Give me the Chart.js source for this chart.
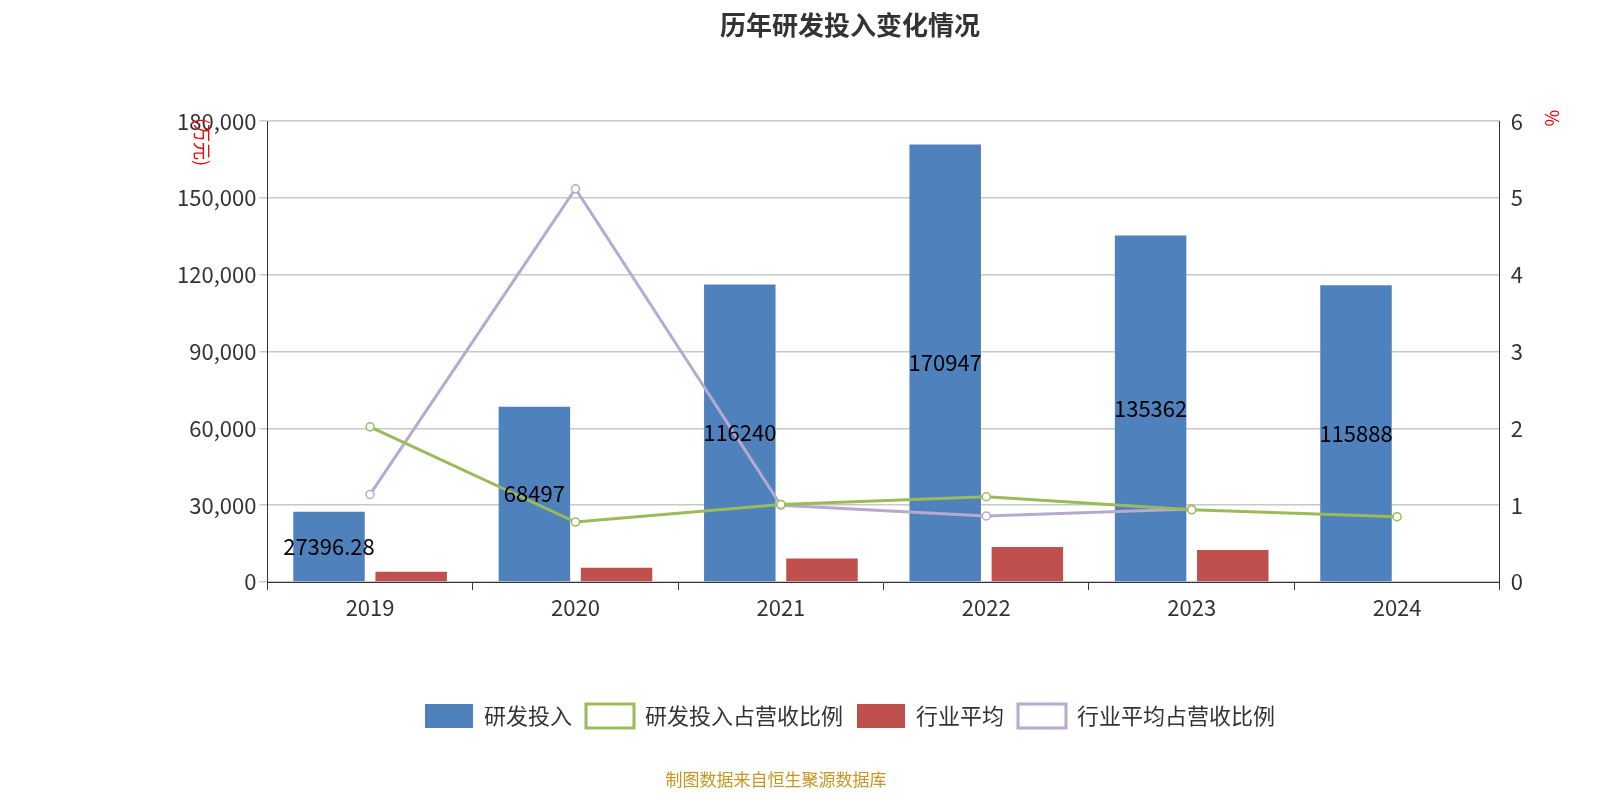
<!DOCTYPE html>
<html><head><meta charset="utf-8">
<script src="https://cdn.jsdelivr.net/npm/chart.js@4"></script>
<style>body{margin:0;background:#fff}#wrap{width:1600px;height:800px;position:relative}</style>
</head><body><div id="wrap"><canvas id="c" width="1600" height="800"></canvas></div>
<script>
const years = ['2019', '2020', '2021', '2022', '2023', '2024'];
const rdSpend = [27396.28, 68497, 116240, 170947, 135362, 115888];
const rdRatio = [2.02, 0.78, 1.01, 1.11, 0.94, 0.85];
const industryAvg = [4000, 5600, 9200, 13700, 12500, null];
const industryRatio = [1.14, 5.12, 1.0, 0.86, 0.95, null];

const FONT = '"Noto Sans CJK SC", "Noto Sans", sans-serif';

// labels in the middle of blue bars, axis titles, footer
const extras = {
    id: 'extras',
    afterDatasetsDraw(chart) {
        let ctx = chart.ctx;
        ctx.save();
        ctx.font = '22px ' + FONT;
        ctx.fillStyle = '#000';
        ctx.textAlign = 'center';
        ctx.textBaseline = 'middle';
        chart.getDatasetMeta(0).data.forEach((bar, i) => {
            ctx.fillText(String(rdSpend[i]), bar.x, (bar.y + bar.base) / 2);
        });
        ctx.fillStyle = 'red';
        ctx.font = '18px ' + FONT;
        ctx.translate(202, 142);
        ctx.rotate(Math.PI / 2);
        ctx.fillText('(万元)', 0, 0);
        ctx.restore();
        ctx.save();
        ctx.fillStyle = 'red';
        ctx.font = '18px ' + FONT;
        ctx.textAlign = 'center';
        ctx.textBaseline = 'middle';
        ctx.translate(1552, 118);
        ctx.rotate(Math.PI / 2);
        ctx.fillText('%', 0, 0);
        ctx.restore();
        ctx.save();
        ctx.fillStyle = '#c8961e';
        ctx.font = '17px ' + FONT;
        ctx.textAlign = 'center';
        ctx.fillText('制图数据来自恒生聚源数据库', 776, 780);
        ctx.restore();
    }
};

new Chart(document.getElementById('c'), {
    data: {
        labels: years,
        datasets: [
            { type: 'bar', label: '研发投入', data: rdSpend, backgroundColor: '#4f81bd', yAxisID: 'y', order: 2 },
            { type: 'line', label: '研发投入占营收比例', data: rdRatio, borderColor: '#9bbb59', backgroundColor: '#fff',
              borderWidth: 3, pointRadius: 4, pointBorderWidth: 1.5, yAxisID: 'y1', order: 1 },
            { type: 'bar', label: '行业平均', data: industryAvg, backgroundColor: '#c0504d', yAxisID: 'y', order: 2 },
            { type: 'line', label: '行业平均占营收比例', data: industryRatio, borderColor: '#b8a9d0', backgroundColor: '#fff',
              borderWidth: 3, pointRadius: 4, pointBorderWidth: 1.5, yAxisID: 'y1', order: 1 }
        ]
    },
    options: {
        responsive: false,
        animation: false,
        layout: { padding: { left: 174, right: 74, top: 10, bottom: 62 } },
        datasets: { bar: { categoryPercentage: 0.8, barPercentage: 0.87 } },
        plugins: {
            title: { display: true, text: '历年研发投入变化情况', color: '#333',
                     font: { family: FONT, size: 26, weight: 'bold' }, padding: { top: 0, bottom: 80 } },
            legend: { position: 'bottom',
                      labels: { font: { family: FONT, size: 22 }, color: '#333', boxWidth: 48, boxHeight: 24, padding: 14,
                                sort: (a, b) => a.datasetIndex - b.datasetIndex } },
            tooltip: { enabled: false }
        },
        scales: {
            x: { grid: { display: true, drawOnChartArea: false, offset: true, color: '#333', tickLength: 8 },
                 border: { color: '#333' },
                 ticks: { font: { family: FONT, size: 22 }, color: '#333', padding: 4 }, afterFit(s) { s.height = 108; } },
            y: { position: 'left', min: 0, max: 180000,
                 ticks: { stepSize: 30000, font: { family: FONT, size: 22 }, color: '#333',
                          callback: v => v.toLocaleString('en-US') },
                 grid: { color: '#c8c8c8', lineWidth: 1.5 }, border: { color: '#333' } },
            y1: { position: 'right', min: 0, max: 6,
                  ticks: { stepSize: 1, font: { family: FONT, size: 22 }, color: '#333' },
                  grid: { display: false }, border: { color: '#333' } }
        }
    },
    plugins: [extras]
});
</script></body></html>
